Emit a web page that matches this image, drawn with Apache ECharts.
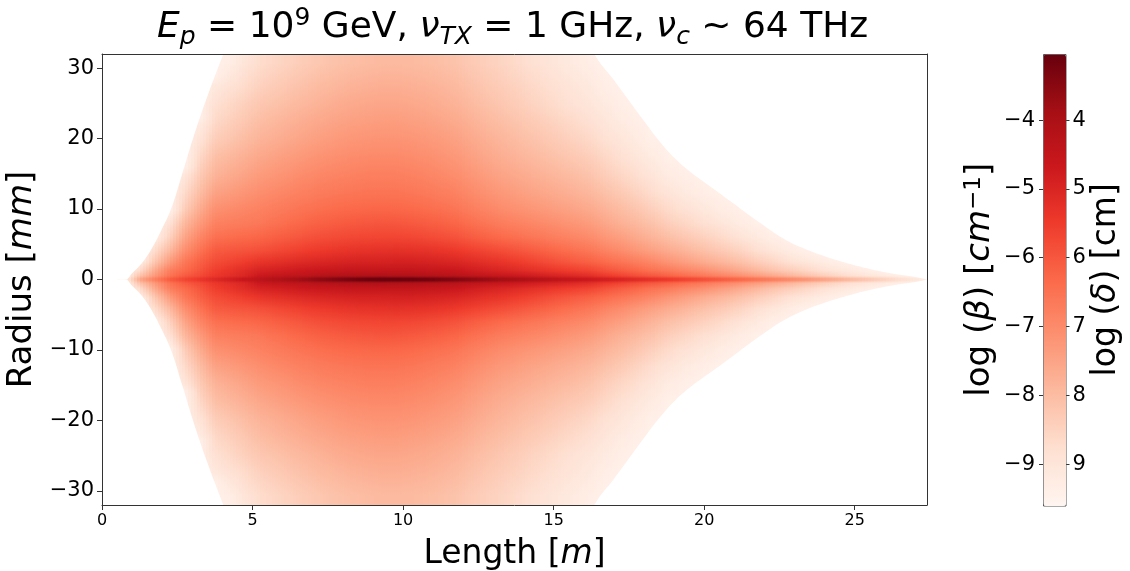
<!DOCTYPE html>
<html>
<head>
<meta charset="utf-8">
<script src="https://cdn.jsdelivr.net/npm/echarts@6/dist/echarts.min.js"></script>
<style>
  html, body { margin: 0; padding: 0; background: #fff; }
  #main { width: 1130px; height: 571px; }
</style>
</head>
<body>
<div id="main"></div>
<script>
// bin edges along the shower [m]
var lengthEdges = [0.5, 1, 1.5, 2, 2.5, 3, 3.5, 4, 4.5, 5, 5.5, 6, 6.5, 7, 7.5, 8, 8.5, 9, 9.5, 10,
  10.5, 11, 11.5, 12, 12.5, 13, 13.5, 14, 14.5, 15, 15.5, 16, 16.5, 17, 17.5, 18, 18.5, 19, 19.5, 20,
  20.5, 21, 21.5, 22, 22.5, 23, 23.5, 24, 24.5, 25, 25.5, 26, 26.5, 27, 27.5];
// radii [mm] where log(beta) was read in every length bin (the first one is the thin axis line)
var radiusSamples = [0.12, 0.5, 1.3, 2.5, 4.1, 6, 8, 10, 12.25, 14.75, 17.25, 19.75, 22.25, 24.75, 27.5, 30.75];

// log(beta): one list per length bin, from the axis outwards
var logBeta = [
  [-9.3],
  [-7.6, -8.1, -8.7, -9.3],
  [-6.8, -7.25, -7.6, -8.2, -8.7, -9.3],
  [-6.1, -6.5, -6.75, -7.3, -7.9, -8.45, -8.85],
  [-5.7, -6.05, -6.35, -6.6, -7.05, -7.5, -7.9, -8.35, -8.65, -9.0],
  [-5.4, -5.75, -5.95, -6.15, -6.5, -6.9, -7.3, -7.65, -8.0, -8.3, -8.6, -8.9, -9.2],
  [-5.1, -5.4, -5.55, -5.8, -6.05, -6.45, -6.8, -7.1, -7.45, -7.8, -8.05, -8.35, -8.6, -8.8, -9.1],
  [-4.85, -5.2, -5.35, -5.65, -5.98, -6.38, -6.73, -7.0, -7.32, -7.63, -7.88, -8.17, -8.4, -8.6, -8.88, -9.3],
  [-4.6, -5.0, -5.15, -5.5, -5.92, -6.32, -6.67, -6.9, -7.18, -7.47, -7.72, -7.98, -8.2, -8.4, -8.67, -8.95],
  [-4.35, -4.65, -4.95, -5.35, -5.85, -6.25, -6.6, -6.8, -7.05, -7.3, -7.55, -7.8, -8.0, -8.2, -8.45, -8.7],
  [-4.15, -4.5, -4.86, -5.26, -5.74, -6.14, -6.47, -6.7, -6.95, -7.2, -7.44, -7.69, -7.88, -8.1, -8.33, -8.57],
  [-3.95, -4.42, -4.77, -5.17, -5.64, -6.04, -6.36, -6.6, -6.85, -7.1, -7.33, -7.57, -7.77, -7.98, -8.2, -8.45],
  [-3.75, -4.34, -4.69, -5.09, -5.53, -5.93, -6.25, -6.5, -6.75, -6.99, -7.22, -7.46, -7.65, -7.86, -8.08, -8.32],
  [-3.55, -4.22, -4.62, -5.02, -5.44, -5.84, -6.16, -6.42, -6.67, -6.91, -7.14, -7.36, -7.56, -7.76, -7.97, -8.21],
  [-3.4, -4.16, -4.57, -4.97, -5.38, -5.78, -6.09, -6.36, -6.61, -6.85, -7.07, -7.29, -7.48, -7.67, -7.89, -8.12],
  [-3.25, -4.12, -4.53, -4.93, -5.32, -5.72, -6.03, -6.31, -6.56, -6.8, -7.01, -7.22, -7.41, -7.6, -7.81, -8.05],
  [-3.12, -4.1, -4.52, -4.92, -5.29, -5.69, -5.99, -6.28, -6.53, -6.76, -6.97, -7.18, -7.37, -7.55, -7.76, -7.99],
  [-3.06, -4.08, -4.52, -4.92, -5.27, -5.67, -5.97, -6.27, -6.52, -6.75, -6.95, -7.15, -7.34, -7.52, -7.72, -7.95],
  [-3.06, -4.1, -4.5, -4.89, -5.25, -5.67, -5.98, -6.28, -6.53, -6.76, -6.96, -7.16, -7.34, -7.52, -7.72, -7.94],
  [-3.1, -4.12, -4.51, -4.89, -5.27, -5.7, -6.02, -6.32, -6.57, -6.8, -7.0, -7.19, -7.38, -7.56, -7.75, -7.96],
  [-3.18, -4.16, -4.54, -4.92, -5.3, -5.75, -6.08, -6.38, -6.63, -6.86, -7.06, -7.25, -7.43, -7.61, -7.79, -8.0],
  [-3.28, -4.2, -4.58, -4.96, -5.36, -5.82, -6.16, -6.46, -6.71, -6.94, -7.14, -7.33, -7.51, -7.69, -7.86, -8.06],
  [-3.4, -4.26, -4.65, -5.02, -5.43, -5.91, -6.26, -6.56, -6.81, -7.04, -7.24, -7.42, -7.6, -7.78, -7.95, -8.14],
  [-3.55, -4.36, -4.78, -5.14, -5.57, -6.06, -6.42, -6.72, -6.97, -7.2, -7.4, -7.58, -7.75, -7.93, -8.1, -8.28],
  [-3.7, -4.47, -4.9, -5.26, -5.69, -6.2, -6.57, -6.87, -7.12, -7.35, -7.55, -7.72, -7.9, -8.07, -8.23, -8.41],
  [-3.85, -4.55, -5.0, -5.35, -5.8, -6.32, -6.7, -7.0, -7.25, -7.48, -7.68, -7.85, -8.02, -8.2, -8.35, -8.52],
  [-4.0, -4.66, -5.11, -5.49, -5.93, -6.44, -6.8, -7.1, -7.36, -7.59, -7.8, -7.98, -8.15, -8.33, -8.48, -8.66],
  [-4.15, -4.77, -5.23, -5.63, -6.07, -6.55, -6.91, -7.2, -7.46, -7.7, -7.91, -8.1, -8.28, -8.47, -8.61, -8.8],
  [-4.3, -4.87, -5.34, -5.78, -6.2, -6.67, -7.01, -7.31, -7.57, -7.8, -8.03, -8.23, -8.41, -8.6, -8.75, -8.93],
  [-4.45, -4.98, -5.46, -5.92, -6.34, -6.78, -7.12, -7.41, -7.67, -7.91, -8.14, -8.35, -8.54, -8.74, -8.88, -9.07],
  [-4.6, -5.09, -5.57, -6.06, -6.47, -6.9, -7.22, -7.51, -7.78, -8.02, -8.26, -8.48, -8.67, -8.87, -9.01, -9.21],
  [-4.72, -5.22, -5.68, -6.17, -6.6, -7.02, -7.35, -7.63, -7.9, -8.16, -8.39, -8.62, -8.81, -9.0, -9.15, -9.34],
  [-4.85, -5.45, -5.91, -6.37, -6.83, -7.24, -7.56, -7.82, -8.09, -8.37, -8.6, -8.83, -9.01, -9.17, -9.34],
  [-5.0, -5.62, -6.09, -6.54, -7.02, -7.4, -7.76, -8.0, -8.27, -8.56, -8.78, -9.0, -9.18, -9.34],
  [-5.15, -5.82, -6.27, -6.72, -7.21, -7.6, -7.92, -8.18, -8.48, -8.74, -8.98, -9.17, -9.34],
  [-5.3, -5.98, -6.48, -6.92, -7.42, -7.81, -8.12, -8.41, -8.7, -8.97, -9.18, -9.37],
  [-5.45, -6.17, -6.65, -7.17, -7.63, -8.03, -8.37, -8.65, -8.93, -9.19, -9.39],
  [-5.62, -6.35, -6.85, -7.36, -7.8, -8.21, -8.55, -8.82, -9.11, -9.34],
  [-5.8, -6.53, -7.02, -7.55, -8.0, -8.37, -8.72, -9.0, -9.25],
  [-5.98, -6.73, -7.23, -7.75, -8.17, -8.55, -8.88, -9.16, -9.38],
  [-6.15, -6.91, -7.42, -7.92, -8.34, -8.72, -9.07, -9.32],
  [-6.35, -7.13, -7.65, -8.12, -8.54, -8.94, -9.25],
  [-6.55, -7.33, -7.88, -8.35, -8.77, -9.13, -9.41],
  [-6.75, -7.57, -8.13, -8.56, -8.98, -9.34],
  [-6.95, -7.79, -8.33, -8.79, -9.2],
  [-7.15, -8.02, -8.53, -8.98, -9.37],
  [-7.4, -8.26, -8.74, -9.17],
  [-7.65, -8.49, -8.94, -9.33],
  [-7.9, -8.72, -9.13],
  [-8.15, -8.91, -9.29],
  [-8.4, -9.09, -9.42],
  [-8.65, -9.25],
  [-8.9, -9.39],
  [-9.2]
];
// radius [mm] where each length bin fades out (null: still coloured at the plot edge)
var fadeRadius = [0.1, 2.6, 5.6, 9.8, 16.0, 22.8, 28.8, 35, 41,
  null, null, null, null, null, null, null, null, null, null, null, null, null, null, null, null, null,
  null, null, null, null, null,
  33, 30, 27.1, 24.1, 21.3, 18.8, 16.5, 14.7, 13.1, 11.6, 9.9, 8.3, 6.9, 5.6, 4.5, 3.7, 3.0, 2.3,
  1.75, 1.3, 0.9, 0.55, 0.2];
var fadeValue = -9.4;

// outer edge of the coloured region (upper side; the lower side is its mirror)
var edgeLength = [0, 0.77, 1.0, 1.3, 1.6, 1.95, 2.31, 2.65, 3.03, 3.5, 4.03, 4.3, 16.0, 16.35, 17.0, 17.5,
  18.0, 18.5, 19.0, 19.5, 20.4, 21.0, 21.5, 22.0, 22.6, 23.2, 24.0, 24.85, 25.5, 26.2, 27.1, 27.4];
var edgeRadius = [0, 0, 0.9, 2.2, 4.0, 6.8, 10.2, 14.8, 20.1, 26, 32, 35, 36, 32, 28.3, 25.4,
  22.5, 19.7, 17.3, 15.4, 12.6, 10.7, 9.1, 7.6, 5.9, 4.6, 3.3, 2.2, 1.5, 0.9, 0.3, 0];

var lengthTicks = [0, 5, 10, 15, 20, 25];
var radiusTicks = [-30, -20, -10, 0, 10, 20, 30];
var betaTicks = [-9, -8, -7, -6, -5, -4];
var deltaTicks = [4, 5, 6, 7, 8, 9];
var betaMin = -9.6, betaMax = -3.04;
var reds = ['#fff5f0', '#fee0d2', '#fcbba1', '#fc9272', '#fb6a4a', '#ef3b2c', '#cb181d', '#a50f15', '#67000d'];

var FONT = 'DejaVu Sans';
var RMAX = 32;
var RTOP = 33;
var SLICES = 5;

function hexRgb(h) {
  return [parseInt(h.substr(1, 2), 16), parseInt(h.substr(3, 2), 16), parseInt(h.substr(5, 2), 16)];
}
// same linear colour ramp the visualMap bar uses
function colorAt(v) {
  var t = (v - betaMin) / (betaMax - betaMin);
  t = Math.max(0, Math.min(1, t)) * (reds.length - 1);
  var k = Math.min(Math.floor(t), reds.length - 2), f = t - k;
  var a = hexRgb(reds[k]), b = hexRgb(reds[k + 1]);
  return 'rgb(' + Math.round(a[0] + (b[0] - a[0]) * f) + ',' + Math.round(a[1] + (b[1] - a[1]) * f) + ',' +
    Math.round(a[2] + (b[2] - a[2]) * f) + ')';
}

// radial profile of one length bin, shaded linearly between its samples
function profile(i, r) {
  var col = logBeta[i], n = col.length;
  if (r <= radiusSamples[0]) return col[0];
  for (var k = 0; k < n - 1; k++) {
    if (r <= radiusSamples[k + 1]) {
      var f = (r - radiusSamples[k]) / (radiusSamples[k + 1] - radiusSamples[k]);
      return col[k] + (col[k + 1] - col[k]) * f;
    }
  }
  var rLast = radiusSamples[n - 1], rb = fadeRadius[i];
  if (r <= rLast || rb == null) return col[n - 1];
  if (r >= rb) return fadeValue;
  return col[n - 1] + (fadeValue - col[n - 1]) * (r - rLast) / (rb - rLast);
}

var lengthCentres = logBeta.map(function (c, i) { return (lengthEdges[i] + lengthEdges[i + 1]) / 2; });

// one item per pair of neighbouring length bins: [xFrom, xTo, binFrom, binTo]
var spans = [[lengthEdges[0], lengthCentres[0], 0, 0]];
for (var i = 0; i < lengthCentres.length - 1; i++) {
  spans.push([lengthCentres[i], lengthCentres[i + 1], i, i + 1]);
}
var nLast = lengthCentres.length - 1;
spans.push([lengthCentres[nLast], lengthEdges[nLast + 1], nLast, nLast]);

var upperEdge = edgeLength.map(function (x, i) { return [x, edgeRadius[i]]; });
var lowerEdge = edgeLength.map(function (x, i) { return [x, -edgeRadius[i]]; });

function minusFmt(v) {
  return v < 0 ? '\u2212' + (-v) : String(v);
}

function renderSpan(params, api) {
  var xa = api.value(0), xb = api.value(1), ia = api.value(2), ib = api.value(3);
  var nodes = [0].concat(radiusSamples);
  [fadeRadius[ia], fadeRadius[ib]].forEach(function (rb) {
    if (rb != null && rb < RTOP) nodes.push(rb);
  });
  nodes.push(RTOP);
  nodes.sort(function (a, b) { return a - b; });
  var y0 = api.coord([xa, 0])[1];
  var yUp = api.coord([xa, RTOP])[1];
  var yDown = api.coord([xa, -RTOP])[1];
  var yMid = Math.round(y0);
  var children = [];
  for (var s = 0; s < SLICES; s++) {
    var w = ia === ib ? 0 : (s + 0.5) / SLICES;
    var stops = nodes.map(function (r) {
      var v = profile(ia, r) * (1 - w) + profile(ib, r) * w;
      return { offset: r / RTOP, color: colorAt(v) };
    });
    // slice edges on whole pixels so neighbouring slices meet without seams
    var px0 = Math.round(api.coord([xa + (xb - xa) * s / SLICES, 0])[0]);
    var px1 = Math.round(api.coord([xa + (xb - xa) * (s + 1) / SLICES, 0])[0]);
    if (px1 <= px0) continue;
    children.push({
      type: 'rect',
      shape: { x: px0, y: Math.floor(yUp), width: px1 - px0, height: yMid - Math.floor(yUp) },
      style: { fill: new echarts.graphic.LinearGradient(0, y0, 0, yUp, stops, true) }
    });
    children.push({
      type: 'rect',
      shape: { x: px0, y: yMid, width: px1 - px0, height: Math.ceil(yDown) - yMid },
      style: { fill: new echarts.graphic.LinearGradient(0, y0, 0, yDown, stops, true) }
    });
  }
  return { type: 'group', children: children };
}

var nameRich = function (size) {
  return {
    n: { fontFamily: FONT, fontSize: size, color: '#000' },
    i: { fontFamily: FONT, fontSize: size, fontStyle: 'italic', color: '#000' },
    sup: { fontFamily: FONT, fontSize: Math.round(size * 0.68), color: '#000', lineHeight: 22, verticalAlign: 'top' }
  };
};
var frame = { show: true, onZero: false, lineStyle: { color: '#333', width: 1 } };

var chart = echarts.init(document.getElementById('main'));
chart.setOption({
  animation: false,
  backgroundColor: '#fff',
  title: {
    left: 152,
    top: 1,
    text: '{i|E}{sub|p}{n| = 10}{sup|9}{n| GeV, }{i|\u03bd}{sub|TX}{n| = 1 GHz, }{i|\u03bd}{sub|c}{n| ~ 64 THz}',
    textStyle: {
      fontWeight: 'normal',
      rich: {
        n: { fontFamily: FONT, fontSize: 36, fontWeight: 'normal', color: '#000', lineHeight: 44 },
        i: { fontFamily: FONT, fontSize: 36, fontWeight: 'normal', fontStyle: 'italic', color: '#000', lineHeight: 44 },
        sub: { fontFamily: FONT, fontSize: 25, fontWeight: 'normal', fontStyle: 'italic', color: '#000', lineHeight: 26, verticalAlign: 'bottom' },
        sup: { fontFamily: FONT, fontSize: 25, fontWeight: 'normal', color: '#000', lineHeight: 26, verticalAlign: 'top' }
      }
    }
  },
  grid: [
    { left: 102, right: 203, top: 54, bottom: 66, outerBoundsMode: 'none', containLabel: false },
    { left: 1043, top: 54, width: 22.5, height: 451.5, outerBoundsMode: 'none', containLabel: false }
  ],
  xAxis: [
    {
      type: 'value', gridIndex: 0, min: 0, max: 27.4, z: 10,
      name: '{n|Length [}{i|m}{n|]}', nameLocation: 'middle', nameGap: 33,
      nameTextStyle: { rich: nameRich(33) },
      axisLine: frame,
      axisTick: { show: true, length: 5, customValues: lengthTicks, lineStyle: { color: '#333' } },
      axisLabel: { customValues: lengthTicks, fontFamily: FONT, fontSize: 16, color: '#000', margin: 8 },
      splitLine: { show: false }
    },
    {
      type: 'value', gridIndex: 0, position: 'top', min: 0, max: 27.4, z: 10,
      axisLine: frame, axisTick: { show: false }, axisLabel: { show: false }, splitLine: { show: false }
    },
    { type: 'value', gridIndex: 1, min: 0, max: 1, show: false }
  ],
  yAxis: [
    {
      type: 'value', gridIndex: 0, min: -RMAX, max: RMAX, z: 10,
      name: '{n|Radius [}{i|mm}{n|]}', nameLocation: 'middle', nameGap: 62, nameRotate: 90,
      nameTextStyle: { rich: nameRich(34) },
      axisLine: frame,
      axisTick: { show: true, length: 5, customValues: radiusTicks, lineStyle: { color: '#333' } },
      axisLabel: { customValues: radiusTicks, formatter: minusFmt, fontFamily: FONT, fontSize: 21, color: '#000', margin: 8 },
      splitLine: { show: false }
    },
    {
      type: 'value', gridIndex: 0, position: 'right', min: -RMAX, max: RMAX, z: 10,
      axisLine: frame, axisTick: { show: false }, axisLabel: { show: false }, splitLine: { show: false }
    },
    {
      type: 'value', gridIndex: 1, position: 'left', min: betaMin, max: betaMax,
      name: '{n|log (}{i|\u03b2}{n|) [}{i|cm}{sup|\u22121}{n|]}', nameLocation: 'middle', nameGap: 46, nameRotate: 90,
      nameTextStyle: { rich: nameRich(34) },
      axisLine: { show: false },
      axisTick: { show: true, length: 4, customValues: betaTicks, lineStyle: { color: '#333' } },
      axisLabel: { customValues: betaTicks, formatter: minusFmt, fontFamily: FONT, fontSize: 21, color: '#000', margin: 8 },
      splitLine: { show: false }
    },
    {
      type: 'value', gridIndex: 1, position: 'right', min: -betaMax, max: -betaMin, inverse: true,
      name: '{n|log (}{i|\u03b4}{n|) [cm]}', nameLocation: 'middle', nameGap: 24, nameRotate: 90,
      nameTextStyle: { rich: nameRich(33) },
      axisLine: { show: false },
      axisTick: { show: true, length: 4, customValues: deltaTicks, lineStyle: { color: '#333' } },
      axisLabel: { customValues: deltaTicks, fontFamily: FONT, fontSize: 21, color: '#000', margin: 7 },
      splitLine: { show: false }
    }
  ],
  visualMap: {
    type: 'continuous',
    min: betaMin, max: betaMax,
    dimension: 0,
    seriesIndex: 0,
    orient: 'vertical',
    left: 1043, top: 54,
    itemWidth: 22.5, itemHeight: 451.5,
    padding: 0,
    calculable: false,
    text: null,
    borderColor: '#555', borderWidth: 1,
    inRange: { color: reds }
  },
  series: [
    {
      type: 'custom',
      xAxisIndex: 0, yAxisIndex: 0,
      renderItem: renderSpan,
      encode: { x: [0, 1] },
      clip: true,
      silent: true,
      data: spans
    },
    {
      type: 'line',
      xAxisIndex: 0, yAxisIndex: 0,
      data: upperEdge,
      smooth: 0.4,
      symbol: 'none',
      clip: true,
      silent: true,
      lineStyle: { width: 0 },
      areaStyle: { color: '#fff', opacity: 1, origin: 'end' }
    },
    {
      type: 'line',
      xAxisIndex: 0, yAxisIndex: 0,
      data: lowerEdge,
      smooth: 0.4,
      symbol: 'none',
      clip: true,
      silent: true,
      lineStyle: { width: 0 },
      areaStyle: { color: '#fff', opacity: 1, origin: 'start' }
    }
  ]
});
</script>
</body>
</html>
